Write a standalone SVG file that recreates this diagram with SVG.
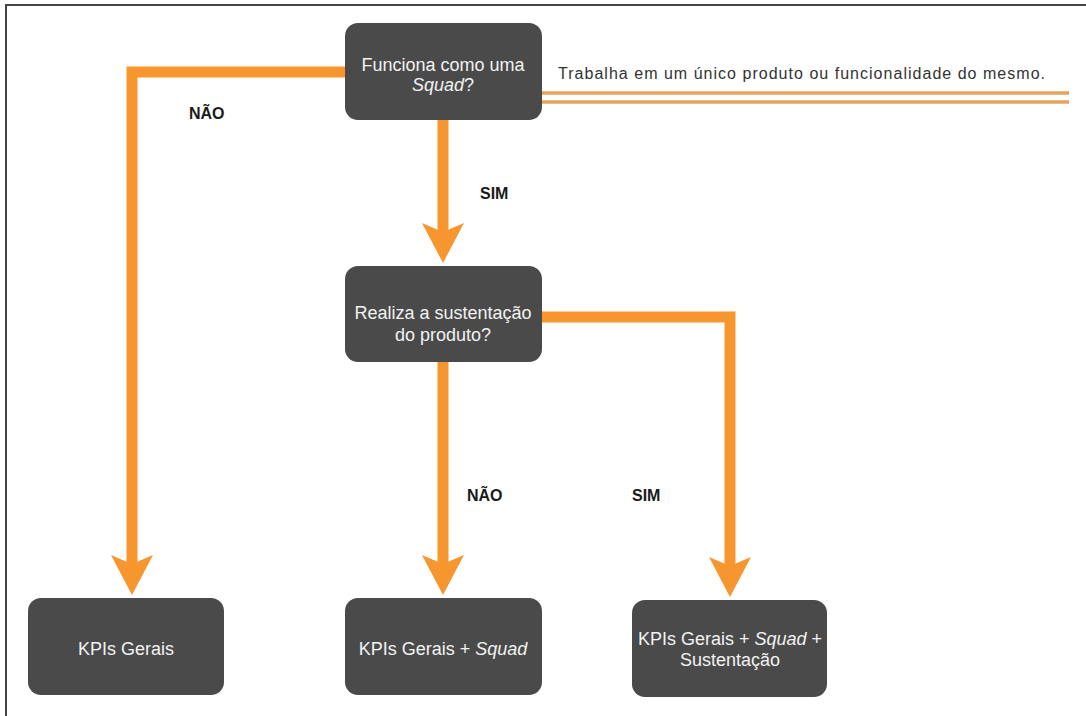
<svg xmlns="http://www.w3.org/2000/svg" width="1086" height="716" viewBox="0 0 1086 716">
  <style>
    .node rect { fill: #4a4a4a; }
    .node text { fill: #f2f2f2; font-family: "Liberation Sans", Arial, sans-serif; font-size: 18px; text-anchor: middle; }
    .it { font-style: italic; }
    .flow { fill: none; stroke: #f7952e; stroke-width: 11; stroke-linejoin: miter; }
    .lbl { fill: #1a1a1a; font-family: "Liberation Sans", Arial, sans-serif; font-size: 16px; font-weight: bold; }
    .note { fill: #333333; font-family: "Liberation Sans", Arial, sans-serif; font-size: 16px; }
    .rule { stroke: #e3a35f; stroke-width: 3.5; }
  </style>
  <defs>
    <marker id="head" markerUnits="userSpaceOnUse" viewBox="0 0 40 42" markerWidth="40" markerHeight="42" refX="9" refY="21" orient="auto">
      <path d="M0,0 L40,21 L0,42 L9,21 Z" fill="#f7952e"/>
    </marker>
  </defs>

  <rect width="1086" height="716" fill="#ffffff"/>
  <!-- frame -->
  <path d="M6,716 V5 H1086" fill="none" stroke="#444444" stroke-width="2"/>

  <!-- connectors -->
  <g id="connectors">
    <path class="flow" d="M346,72 H132 V564" marker-end="url(#head)"/>
    <path class="flow" d="M443,119 V232" marker-end="url(#head)"/>
    <path class="flow" d="M443,361 V564" marker-end="url(#head)"/>
    <path class="flow" d="M541,317 H730 V566" marker-end="url(#head)"/>
    <line class="rule" x1="541" y1="93" x2="1069" y2="93"/>
    <line class="rule" x1="541" y1="102" x2="1069" y2="102"/>
  </g>

  <!-- branch labels -->
  <g id="labels">
    <text class="lbl" x="189" y="119">NÃO</text>
    <text class="lbl" x="480" y="199">SIM</text>
    <text class="lbl" x="467" y="501">NÃO</text>
    <text class="lbl" x="632" y="501">SIM</text>
    <text class="note" x="558" y="79" textLength="487" lengthAdjust="spacing">Trabalha em um único produto ou funcionalidade do mesmo.</text>
  </g>

  <g id="q-squad" class="node">
    <rect x="345" y="23" width="197" height="97" rx="13"/>
    <text x="443" y="71">Funciona como uma</text>
    <text x="443" y="91"><tspan class="it">Squad</tspan>?</text>
  </g>

  <g id="q-sustentacao" class="node">
    <rect x="345" y="266" width="197" height="96" rx="13"/>
    <text x="443" y="319">Realiza a sustentação</text>
    <text x="443" y="341">do produto?</text>
  </g>

  <g id="kpis-gerais" class="node">
    <rect x="28" y="598" width="196" height="97" rx="13"/>
    <text x="126" y="655">KPIs Gerais</text>
  </g>

  <g id="kpis-squad" class="node">
    <rect x="345" y="598" width="197" height="97" rx="13"/>
    <text x="443" y="655">KPIs Gerais + <tspan class="it">Squad</tspan></text>
  </g>

  <g id="kpis-squad-sustentacao" class="node">
    <rect x="632" y="600" width="195" height="97" rx="13"/>
    <text x="730" y="645">KPIs Gerais + <tspan class="it">Squad</tspan> +</text>
    <text x="730" y="666">Sustentação</text>
  </g>
</svg>
